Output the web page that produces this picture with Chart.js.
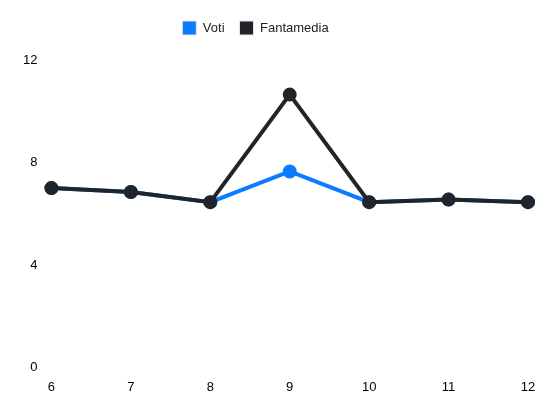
<!DOCTYPE html>
<html>
<head>
<meta charset="utf-8">
<script src="https://cdn.jsdelivr.net/npm/chart.js@4"></script>
<style>
  html, body { margin: 0; padding: 0; background: #fff; }
  #wrap { width: 550px; height: 412px; }
</style>
</head>
<body>
<div id="wrap"><canvas id="votiChart"></canvas></div>
<script>
// giornate (matchdays) and ratings
const giornate = ['6', '7', '8', '9', '10', '11', '12'];
const voti = [7, 6.85, 6.45, 7.65, 6.45, 6.55, 6.45];
const fantamedia = [7, 6.85, 6.45, 10.65, 6.45, 6.55, 6.45];
const yTicks = [0, 4, 8, 12];

const BLUE = '#0a7cff';
const DARK = '#212529';

Chart.defaults.font.family = '"Liberation Sans", Arial, sans-serif';
Chart.defaults.font.size = 13;
Chart.defaults.color = '#000';

// extra room under the legend, and nudge it a little left like the original
const legendTweak = {
    id: 'legendTweak',
    beforeInit(chart) {
        const fit = chart.legend.fit;
        chart.legend.fit = function () {
            fit.bind(chart.legend)();
            this.height += 15;
        };
    },
    afterLayout(chart) {
        chart.legend.left -= 17;
        chart.legend.right -= 17;
    }
};

new Chart(document.getElementById('votiChart'), {
    type: 'line',
    data: {
        labels: giornate,
        datasets: [
            {
                label: 'Voti',
                data: voti,
                borderColor: BLUE,
                backgroundColor: BLUE,
                borderWidth: 4,
                pointRadius: 5,
                pointHoverRadius: 5,
                tension: 0,
                order: 2
            },
            {
                label: 'Fantamedia',
                data: fantamedia,
                borderColor: DARK,
                backgroundColor: DARK,
                borderWidth: 4,
                pointRadius: 5,
                pointHoverRadius: 5,
                tension: 0,
                order: 1
            }
        ]
    },
    options: {
        responsive: true,
        maintainAspectRatio: false,
        animation: false,
        layout: { padding: { left: 17, right: 22, top: 6, bottom: 13 } },
        plugins: {
            legend: {
                position: 'top',
                labels: {
                    boxWidth: 14,
                    boxHeight: 14,
                    padding: 15,
                    color: '#222',
                    sort: (a, b) => a.datasetIndex - b.datasetIndex,
                    generateLabels: (chart) =>
                        Chart.defaults.plugins.legend.labels.generateLabels(chart)
                            .map(item => Object.assign(item, { lineWidth: 1, strokeStyle: '#e6e6e6' }))
                }
            },
            tooltip: { enabled: false }
        },
        scales: {
            x: {
                grid: { display: false },
                border: { display: false },
                ticks: { padding: 4 }
            },
            y: {
                min: 0,
                max: 12,
                afterBuildTicks: (axis) => {
                    axis.ticks = yTicks.map(v => ({ value: v }));
                },
                grid: { display: false },
                border: { display: false },
                ticks: { padding: 6 }
            }
        }
    },
    plugins: [legendTweak]
});
</script>
</body>
</html>
